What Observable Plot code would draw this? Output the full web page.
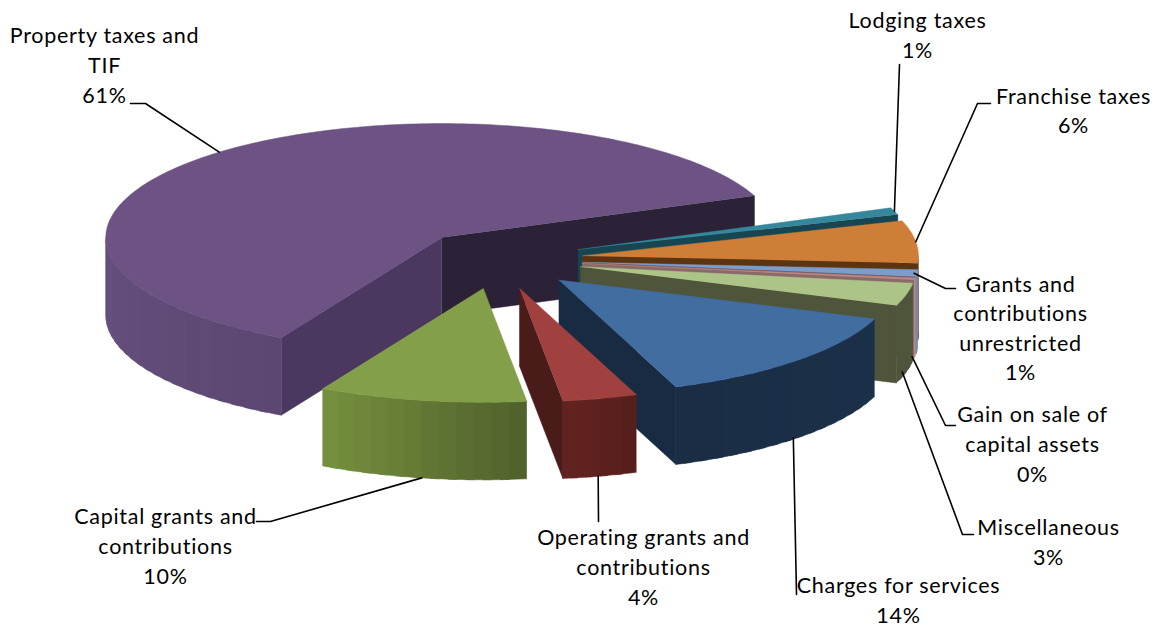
<!DOCTYPE html>
<html>
<head>
<meta charset="utf-8">
<script src="https://cdn.jsdelivr.net/npm/d3@7"></script>
<script src="https://cdn.jsdelivr.net/npm/@observablehq/plot@0.6"></script>
<style>
  html, body { margin: 0; padding: 0; background: #fff; }
</style>
</head>
<body>
<div id="chart"></div>
<script>
// Revenue shares, clockwise from the upper right of the pie.
const names = [
  "Lodging taxes", "Franchise taxes",
  "Grants and\ncontributions\nunrestricted", "Gain on sale of\ncapital assets",
  "Miscellaneous", "Charges for services",
  "Operating grants and\ncontributions", "Capital grants and\ncontributions",
  "Property taxes and\nTIF"
];
const shares = [1, 6, 1, 0.3, 3.2, 13.8, 3.6, 10, 61.1];

// Colours: top face, visible radial wall at the clockwise end, rim shading from first to last angle.
const topColors = ["#35879c", "#cf7e37", "#7b9ccc", "#b98a84", "#adc488", "#426da0", "#a1413f", "#839f49", "#6c5384"];
const sideColors = ["#174552", "#5c3510", "#7d5a62", "#8a6a68", "#4e553a", "#182b42", "#4a1c19", "#50602c", "#2c2238"];
const startWallColors = ["#174552", "#5c3510", "#7d5a62", "#8a6a68", "#4e553a", "#182b42", "#4a1c19", "#50602c", "#4a3860"];
const rimFrom = ["#174552", "#5c3510", "#7f93b8", "#c9a295", "#4e553a", "#1b3049", "#541e1c", "#50602c", "#5c4772"];
const rimTo = ["#174552", "#5c3510", "#6f86ad", "#c9a295", "#4e553a", "#1a2d45", "#632320", "#76913f", "#66507f"];

// Pie geometry on the page: ellipse radii, extrusion depth, explosion (right-hand pull is slightly foreshortened).
const center = [498.5, 259], rx = 336, ry = 114, depth = 77.5;
const explodeLeft = 0.257, explodeRight = 0.25, explodeY = 0.257, startAngle = -21.5;
const paintOrder = [8, 0, 1, 2, 3, 4, 5, 6, 7];

// Label block centres and the elbow of each leader line.
const labelX = [917, 1073, 1020, 1032, 1048, 898, 643, 165, 104];
const labelY = [33, 108.5, 326, 442, 540, 598, 565, 544, 63];
const elbowX = [899, 977, 945, 945, 962, 796, 598, 270, 145];
const elbowY = [64, 103, 288, 425, 534, 594, 521, 521, 103];
const tailX = [null, 990, 955, 955, 973, null, null, 256, 130];
const tailY = [null, 103, 288, 425, 534, null, null, 521, 103];
const leaderOnRimBase = [false, false, false, true, true, true, true, true, false];
const leaderShift = [0, 0, -3, -3, -4, -4, -2, 0, 0];

const rad = (d) => (d * Math.PI) / 180;
const total = d3.sum(shares);
let running = startAngle;
const slices = shares.map((share, i) => {
  const t0 = running;
  const t1 = (running += (share / total) * 360);
  const mid = (t0 + t1) / 2;
  const c = Math.cos(rad(mid));
  const ax = center[0] + (c < 0 ? explodeLeft : explodeRight) * rx * c;
  const ay = center[1] + explodeY * ry * Math.sin(rad(mid));
  return {i, t0, t1, mid, ax, ay,
    rim: (t) => [ax + rx * Math.cos(rad(t)), ay + ry * Math.sin(rad(t))]};
});

// Every face becomes one closed polygon; order in the list is the painting order.
const faces = [];
let faceId = 0;
const addFace = (points, color) => {
  for (const [x, y] of points) faces.push({id: faceId, x, y, color});
  faceId++;
};
const wall = (s, t, color) => {
  const [x, y] = s.rim(t);
  addFace([[s.ax, s.ay], [x, y], [x, y + depth], [s.ax, s.ay + depth]], color);
};
for (const k of paintOrder) {
  const s = slices[k];
  if (Math.cos(rad(s.t0)) < 0) wall(s, s.t0, startWallColors[k]);
  if (Math.cos(rad(s.t1)) > 0) wall(s, s.t1, sideColors[k]);
  const a = Math.max(s.t0, 0), b = Math.min(s.t1, 180);
  if (b > a) {
    const shade = d3.interpolateRgb(rimFrom[k], rimTo[k]);
    // Bands run a little past their neighbour so no seam shows between them.
    const steps = Math.max(1, Math.ceil((b - a) / 3));
    for (let n = 0; n < steps; n++) {
      const u = a + ((b - a) * n) / steps;
      const v = Math.min(b, a + ((b - a) * (n + 1.5)) / steps);
      const band = d3.range(0, 5).map((j) => s.rim(u + ((v - u) * j) / 4));
      const edge = [...band, ...band.slice().reverse().map(([x, y]) => [x, y + depth])];
      addFace(edge, shade((n + 0.5) / steps));
    }
  }
  const arc = d3.range(0, Math.ceil(s.t1 - s.t0) + 1)
    .map((n) => s.rim(Math.min(s.t0 + n, s.t1)));
  arc.push(s.rim(s.t1));
  addFace([[s.ax, s.ay], ...arc], topColors[k]);
}

// Leader lines start on the slice at its middle angle.
const leaders = [];
slices.forEach((s, i) => {
  const [x, y] = s.rim(s.mid);
  const y0 = leaderOnRimBase[i] ? y + depth : y;
  leaders.push({id: i, x: x + leaderShift[i], y: y0}, {id: i, x: elbowX[i], y: elbowY[i]});
  if (tailX[i] != null) leaders.push({id: i, x: tailX[i], y: tailY[i]});
});

const labels = names.map((name, i) => ({
  text: `${name}\n${Math.round(shares[i])}%`, x: labelX[i], y: labelY[i]
}));

const chart = Plot.plot({
  width: 1158,
  height: 628,
  margin: 0,
  x: {domain: [0, 1158], range: [0, 1158], axis: null},
  y: {domain: [0, 628], range: [0, 628], axis: null},
  color: {type: "identity"},
  style: {background: "#fff"},
  marks: [
    Plot.line(faces, {x: "x", y: "y", z: "id", fill: "color", stroke: "color", strokeWidth: 0.5}),
    Plot.line(leaders, {x: "x", y: "y", z: "id", stroke: "#000", strokeWidth: 1.6}),
    Plot.text(labels, {
      x: "x", y: "y", text: "text", textAnchor: "middle", lineHeight: 1.38,
      fontSize: 21.5, fontFamily: "Lato", fill: "#000"
    })
  ]
});
chart.querySelectorAll("text").forEach((t) => t.setAttribute("letter-spacing", "0.7"));
document.getElementById("chart").append(chart);
</script>
</body>
</html>
